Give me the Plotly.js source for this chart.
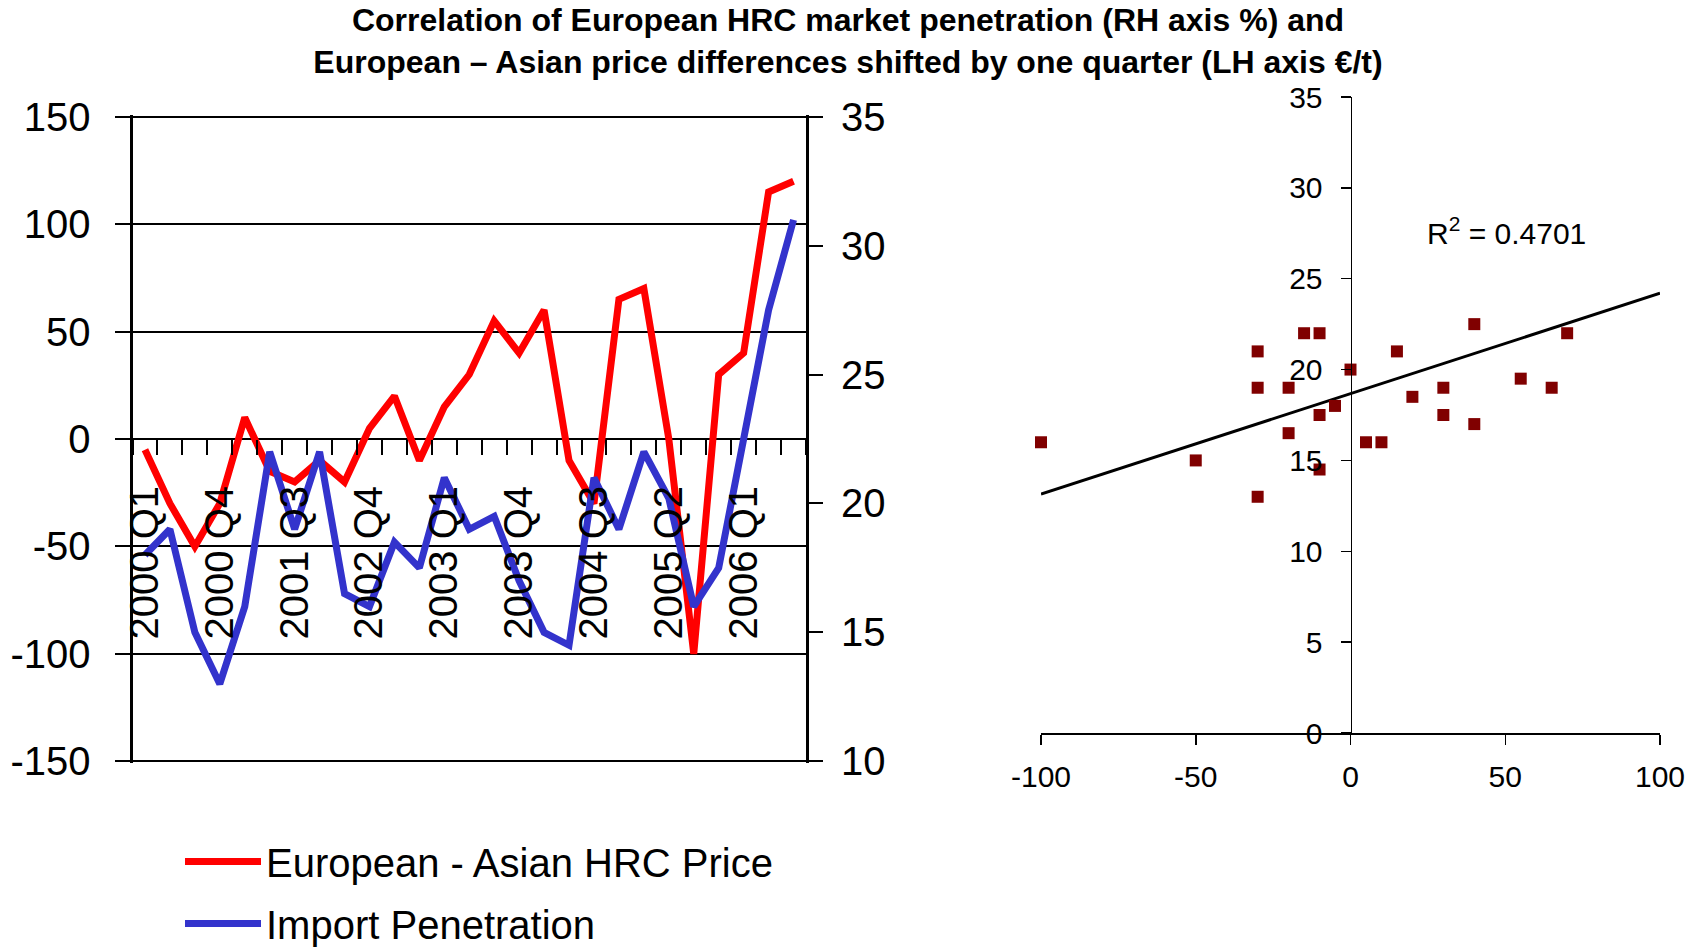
<!DOCTYPE html>
<html><head><meta charset="utf-8">
<script src="https://cdn.plot.ly/plotly-3.0.1.min.js"></script>
<style>html,body{margin:0;padding:0;background:#fff}#chart{width:1702px;height:947px}</style>
</head><body><div id="chart"></div>
<script>
// ---- data ----
const quarters = ['2000 Q1','2000 Q2','2000 Q3','2000 Q4','2001 Q1','2001 Q2','2001 Q3','2001 Q4',
  '2002 Q1','2002 Q2','2002 Q3','2002 Q4','2003 Q1','2003 Q2','2003 Q3','2003 Q4','2004 Q1','2004 Q2',
  '2004 Q3','2004 Q4','2005 Q1','2005 Q2','2005 Q3','2005 Q4','2006 Q1','2006 Q2','2006 Q3'];
const tickLabels = ['2000 Q1','2000 Q4','2001 Q3','2002 Q4','2003 Q1','2003 Q4','2004 Q3','2005 Q2','2006 Q1'];
const priceDiff = [-5,-30,-50,-30,10,-15,-20,-10,-20,5,20,-10,15,30,55,40,60,-10,-30,65,70,0,-100,30,40,115,120];
const importPen = [18,19,15,13,16,22,19,22,16.5,16,18.5,17.5,21,19,19.5,17,15,14.5,21,19,22,20.2,16,17.5,22.5,27.5,31];
const leftTicks = [-150,-100,-50,0,50,100,150];
const rightTicks = [10,15,20,25,30,35];

const scatterX = [-100,-50,-30,-30,-30,-20,-20,-15,-10,-10,-10,-5,0,5,10,15,20,30,30,40,40,55,65,70];
const scatterY = [16,15,21,19,13,19,16.5,22,22,17.5,14.5,18,20,16,16,21,18.5,19,17.5,22.5,17,19.5,19,22];
const trendX = [-100,100];
const trendY = [13.15,24.2];
const rSquared = '0.4701';
const scatXTicks = [-100,-50,0,50,100];
const scatYTicks = [0,5,10,15,20,25,30,35];

// ---- layout helpers ----
const W = 1702, H = 947;
const FONT = 'Liberation Sans, Arial, sans-serif';
const leftDomX = [132.5/W, 806/W];
const leftDomY = [1-763/H, 1-115/H];
const rightDomX = [1041/W, 1660/W];
const rightDomY = [1-733/H, 1-97/H];
// small padding so that the gridlines at the range ends stay visible
const LPAD = 0.8;
const leftRange = [leftTicks[0]-LPAD, leftTicks[leftTicks.length-1]+LPAD];
const rScale = (rightTicks[rightTicks.length-1]-rightTicks[0])/(leftTicks[leftTicks.length-1]-leftTicks[0]);
const rightRange = [rightTicks[0]-LPAD*rScale, rightTicks[rightTicks.length-1]+LPAD*rScale];

const tickText = quarters.map((q,i) => i % 3 === 0 ? tickLabels[i/3] : ' ');

const traces = [
  {x: quarters, y: priceDiff, type:'scatter', mode:'lines', name:'European - Asian HRC Price',
   line:{color:'#FF0000', width:7}, xaxis:'x', yaxis:'y', legendgroup:'a'},
  {x: quarters, y: importPen, type:'scatter', mode:'lines', name:'Import Penetration',
   line:{color:'#3333CC', width:7}, xaxis:'x', yaxis:'y2', legendgroup:'b'},
  {x: trendX, y: trendY, type:'scatter', mode:'lines', line:{color:'#000', width:3},
   xaxis:'x2', yaxis:'y3', showlegend:false, hoverinfo:'skip'},
  {x: scatterX, y: scatterY, type:'scatter', mode:'markers', cliponaxis:false,
   marker:{symbol:'square', size:12, color:'#800000'}, xaxis:'x2', yaxis:'y3', showlegend:false}
];

const layout = {
  width: W, height: H,
  margin:{l:0,r:0,t:0,b:0, autoexpand:false},
  paper_bgcolor:'#fff', plot_bgcolor:'rgba(0,0,0,0)',
  font:{family:FONT, color:'#000'},
  title:{text:'<b>Correlation of European HRC market penetration (RH axis %) and<br>European – Asian price differences shifted by one quarter (LH axis €/t)</b>',
    font:{family:FONT, size:32, color:'#000'}, x:848/W, xanchor:'center', y:1-31/H, yanchor:'top'},
  showlegend:true,
  legend:{x:180/W, y:1-829/H, xanchor:'left', yanchor:'top', font:{family:FONT, size:40, color:'#000'},
    bgcolor:'rgba(0,0,0,0)', tracegroupgap:7, traceorder:'grouped', itemwidth:76},
  xaxis:{type:'category', domain:leftDomX, anchor:'free', position:(leftDomY[0]+leftDomY[1])/2,
    range:[-0.5, quarters.length-0.5], tickmode:'array', tickvals:quarters, ticktext:tickText,
    tickson:'boundaries', ticks:'outside', ticklen:15, tickwidth:2, tickcolor:'#000',
    tickangle:-90, tickfont:{family:FONT, size:40, color:'#000'}, ticklabelstandoff:38,
    showgrid:false, showline:false, zeroline:false, fixedrange:true},
  yaxis:{domain:leftDomY, anchor:'x', range:leftRange, tickmode:'array', tickvals:leftTicks,
    ticktext:leftTicks.map(String), showgrid:true, gridcolor:'#000', gridwidth:2,
    showline:true, linecolor:'#000', linewidth:3, ticks:'outside', ticklen:15, tickwidth:2, tickcolor:'#000',
    tickfont:{family:FONT, size:40, color:'#000'}, ticklabelstandoff:16, zeroline:false},
  yaxis2:{overlaying:'y', side:'right', anchor:'x', range:rightRange, tickmode:'array', tickvals:rightTicks,
    ticktext:rightTicks.map(String), showgrid:false, showline:true, linecolor:'#000', linewidth:3,
    ticks:'outside', ticklen:14, tickwidth:2, tickcolor:'#000',
    tickfont:{family:FONT, size:40, color:'#000'}, ticklabelstandoff:10, zeroline:false},
  xaxis2:{domain:rightDomX, anchor:'y3', range:[-100,100], tickmode:'array', tickvals:scatXTicks,
    ticktext:scatXTicks.map(String), showline:true, linecolor:'#000', linewidth:1.5,
    ticks:'outside', ticklen:10, tickwidth:1.5, tickcolor:'#000', showgrid:false, zeroline:false,
    tickfont:{family:FONT, size:30, color:'#000'}, ticklabelstandoff:6},
  yaxis3:{domain:rightDomY, anchor:'free', position:(rightDomX[0]+rightDomX[1])/2, range:[0,35],
    tickmode:'array', tickvals:scatYTicks, ticktext:scatYTicks.map(String),
    showline:true, linecolor:'#000', linewidth:1.5, ticks:'outside', ticklen:10, tickwidth:1.5, tickcolor:'#000',
    showgrid:false, zeroline:false, tickfont:{family:FONT, size:30, color:'#000'}, ticklabelstandoff:12},
  annotations:[{xref:'x2', yref:'y3', x:24, y:27.6, xanchor:'left', yanchor:'middle', showarrow:false,
    text:'R<sup>2</sup> = ' + rSquared, font:{family:FONT, size:30, color:'#000'}}]
};

Plotly.newPlot('chart', traces, layout, {displayModeBar:false, staticPlot:true});
</script></body></html>
